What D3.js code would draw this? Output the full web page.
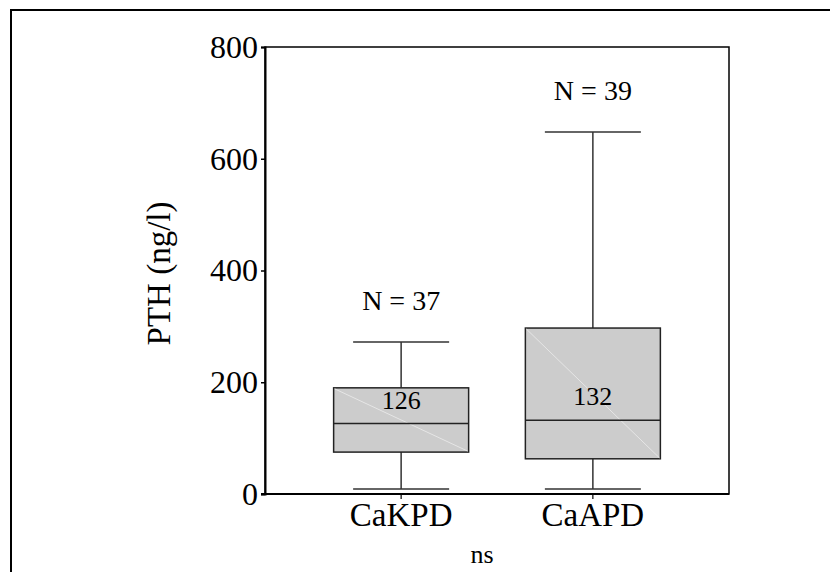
<!DOCTYPE html>
<html>
<head>
<meta charset="utf-8">
<script src="https://cdn.jsdelivr.net/npm/d3@7"></script>
<style>
  body { margin: 0; background: #fff; }
  svg text { font-family: "Liberation Serif", "Times New Roman", serif; fill: #000; }
</style>
</head>
<body>
<svg id="chart" width="830" height="572"></svg>
<script>
// data
var groups = ['CaKPD', 'CaAPD'];
var whiskerLow = [9, 9];
var q1 = [75, 63];
var median = [126, 132];
var q3 = [190, 297];
var whiskerHigh = [272, 648];
var counts = [37, 39];
var yTicks = [0, 200, 400, 600, 800];

var svg = d3.select('#chart');

// outer frame (runs past the right / bottom edge)
svg.append('rect')
  .attr('x', 11).attr('y', 10)
  .attr('width', 840).attr('height', 600)
  .attr('fill', 'none')
  .attr('stroke', '#000')
  .attr('stroke-width', 2);

var plot = { left: 265, right: 729, top: 47, bottom: 494 };

var y = d3.scaleLinear()
  .domain([0, 800])
  .range([plot.bottom, plot.top]);

var x = d3.scaleBand()
  .domain(groups)
  .range([plot.left, plot.right])
  .paddingOuter(0.21)
  .paddingInner(0);

var boxW = 135;
var capW = 96;

// plot border
svg.append('rect')
  .attr('x', plot.left).attr('y', plot.top)
  .attr('width', plot.right - plot.left)
  .attr('height', plot.bottom - plot.top)
  .attr('fill', 'none')
  .attr('stroke', '#000')
  .attr('stroke-width', 1.5);

// y axis
var yAxis = d3.axisLeft(y)
  .tickValues(yTicks)
  .tickSize(4)
  .tickPadding(3)
  .tickFormat(d3.format('d'));

var gy = svg.append('g')
  .attr('transform', 'translate(' + plot.left + ',0)')
  .call(yAxis);
gy.select('.domain').attr('stroke-width', 2);
gy.selectAll('.tick line').attr('stroke-width', 1.5);
gy.selectAll('.tick text')
  .attr('font-size', 32)
  .attr('font-family', '"Liberation Serif", serif');

// x axis
var xAxis = d3.axisBottom(x)
  .tickSize(5)
  .tickPadding(4);

var gx = svg.append('g')
  .attr('transform', 'translate(0,' + plot.bottom + ')')
  .call(xAxis);
gx.select('.domain').attr('d', 'M' + (plot.left - 4) + ',0H' + plot.right).attr('stroke-width', 2);
gx.selectAll('.tick line').attr('stroke-width', 1.2);
gx.selectAll('.tick text')
  .attr('font-size', 33)
  .attr('font-family', '"Liberation Serif", serif');

// boxes
var data = groups.map(function (g, i) {
  return {
    name: g, lo: whiskerLow[i], q1: q1[i], med: median[i],
    q3: q3[i], hi: whiskerHigh[i], n: counts[i]
  };
});

var boxes = svg.append('g').selectAll('g')
  .data(data)
  .enter().append('g')
  .attr('transform', function (d) {
    return 'translate(' + (x(d.name) + x.bandwidth() / 2) + ',0)';
  });

// whiskers
boxes.append('line')
  .attr('x1', 0).attr('x2', 0)
  .attr('y1', function (d) { return y(d.hi); })
  .attr('y2', function (d) { return y(d.q3); })
  .attr('stroke', '#333').attr('stroke-width', 1.5);
boxes.append('line')
  .attr('x1', 0).attr('x2', 0)
  .attr('y1', function (d) { return y(d.q1); })
  .attr('y2', function (d) { return y(d.lo); })
  .attr('stroke', '#333').attr('stroke-width', 1.5);
boxes.append('line')
  .attr('x1', -capW / 2).attr('x2', capW / 2)
  .attr('y1', function (d) { return y(d.hi); })
  .attr('y2', function (d) { return y(d.hi); })
  .attr('stroke', '#333').attr('stroke-width', 1.5);
boxes.append('line')
  .attr('x1', -capW / 2).attr('x2', capW / 2)
  .attr('y1', function (d) { return y(d.lo); })
  .attr('y2', function (d) { return y(d.lo); })
  .attr('stroke', '#333').attr('stroke-width', 1.5);

// box body
boxes.append('rect')
  .attr('x', -boxW / 2)
  .attr('width', boxW)
  .attr('y', function (d) { return y(d.q3); })
  .attr('height', function (d) { return y(d.q1) - y(d.q3); })
  .attr('fill', '#cccccc')
  .attr('stroke', '#222')
  .attr('stroke-width', 1.5);

// faint diagonal
boxes.append('line')
  .attr('x1', -boxW / 2 + 1).attr('x2', boxW / 2 - 1)
  .attr('y1', function (d) { return y(d.q3) + 1; })
  .attr('y2', function (d) { return y(d.q1) - 1; })
  .attr('stroke', '#e6e6e6').attr('stroke-width', 1);

// median
boxes.append('line')
  .attr('x1', -boxW / 2).attr('x2', boxW / 2)
  .attr('y1', function (d) { return y(d.med); })
  .attr('y2', function (d) { return y(d.med); })
  .attr('stroke', '#222').attr('stroke-width', 1.5);

boxes.append('text')
  .attr('text-anchor', 'middle')
  .attr('y', function (d) { return y(d.med) - 15; })
  .attr('font-size', 26)
  .text(function (d) { return d.med; });

// N labels
boxes.append('text')
  .attr('text-anchor', 'middle')
  .attr('y', function (d) { return y(d.hi) - 32; })
  .attr('font-size', 28)
  .text(function (d) { return 'N = ' + d.n; });

// axis titles
svg.append('text')
  .attr('transform', 'translate(170,' + ((plot.top + plot.bottom) / 2 + 3) + ') rotate(-90)')
  .attr('text-anchor', 'middle')
  .attr('font-size', 33)
  .text('PTH (ng/l)');

svg.append('text')
  .attr('x', 482)
  .attr('y', 563)
  .attr('text-anchor', 'middle')
  .attr('font-size', 26)
  .text('ns');
</script>
</body>
</html>
